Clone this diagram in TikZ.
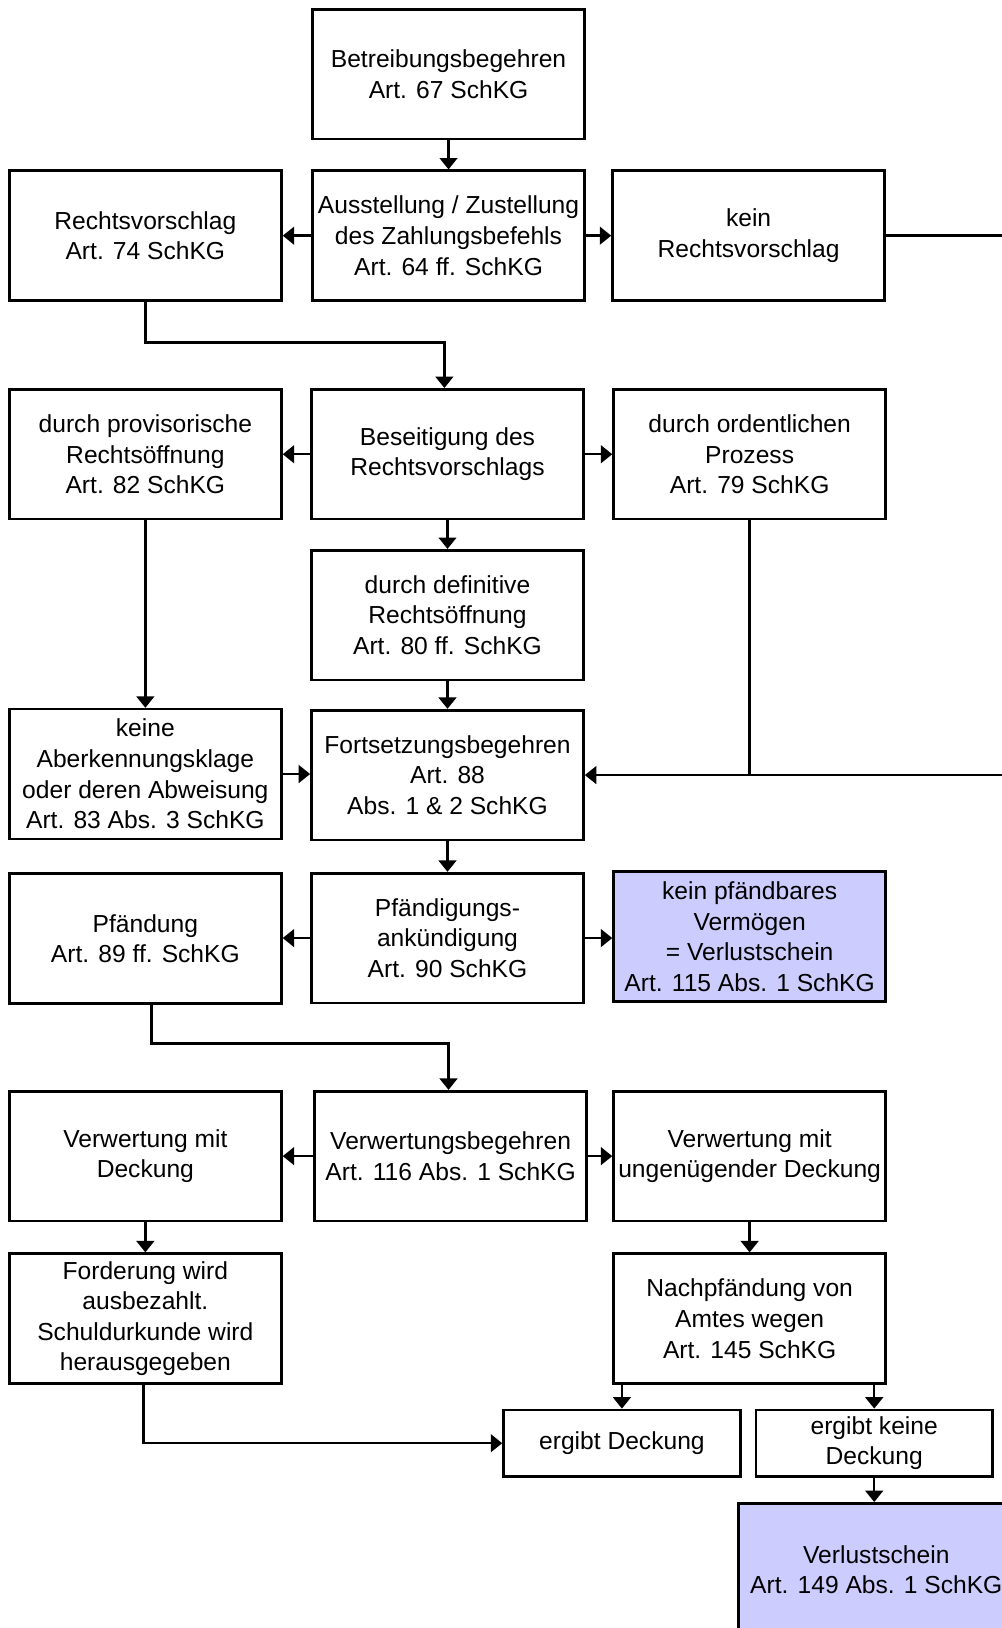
\documentclass[tikz,border=0pt]{standalone}
\usepackage{fontspec}
\setmainfont{Liberation Sans}
\usetikzlibrary{arrows.meta}
\definecolor{lav}{RGB}{204,204,255}
\begin{document}
\begin{tikzpicture}[x=1pt,y=-1pt,
  box/.style={draw=black,line width=2.6pt,fill=white,minimum width=262pt,minimum height=125pt,
    inner sep=0pt,align=center,font=\fontsize{23.7pt}{29.5pt}\selectfont},
  sbox/.style={box,minimum width=228pt,minimum height=64pt},
  hl/.style={fill=lav},
  con/.style={line width=2.4pt},
  arr/.style={con,-{Triangle[length=11pt,width=17pt]}}]
\useasboundingbox (0,0) rectangle (965,1568);
\clip (0,0) rectangle (965,1568);
\fill[white] (0,0) rectangle (965,1568);
% nodes
\node[box] (bb) at (432,71.5) {Betreibungsbegehren\\Art. 67 SchKG};
\node[box] (aus) at (432,227) {Ausstellung / Zustellung\\des Zahlungsbefehls\\Art. 64 ff. SchKG};
\node[box] (rv) at (140,227) {Rechtsvorschlag\\Art. 74 SchKG};
\node[box] (kein) at (721,227) {kein\\Rechtsvorschlag};
\node[box] (prov) at (140,437.5) {durch provisorische\\Rechtsöffnung\\Art. 82 SchKG};
\node[box] (bes) at (431,437.5) {Beseitigung des\\Rechtsvorschlags};
\node[box] (ord) at (722,437.5) {durch ordentlichen\\Prozess\\Art. 79 SchKG};
\node[box] (def) at (431,592.5) {durch definitive\\Rechtsöffnung\\Art. 80 ff. SchKG};
\node[box] (aber) at (140,745.5) {keine\\Aberkennungsklage\\oder deren Abweisung\\Art. 83 Abs. 3 SchKG};
\node[box] (fort) at (431,746.5) {Fortsetzungsbegehren\\Art. 88\\Abs. 1 \& 2 SchKG};
\node[box] (pf) at (140,904) {Pfändung\\Art. 89 ff. SchKG};
\node[box] (pfa) at (431,903.5) {Pfändigungs-\\ankündigung\\Art. 90 SchKG};
\node[box,hl] (kpv) at (722,902) {kein pfändbares\\Vermögen\\= Verlustschein\\Art. 115 Abs. 1 SchKG};
\node[box] (vmd) at (140,1113.5) {Verwertung mit\\Deckung};
\node[box] (vb) at (434,1113.5) {Verwertungsbegehren\\Art. 116 Abs. 1 SchKG};
\node[box] (vud) at (722,1113.5) {Verwertung mit\\ungenügender Deckung};
\node[box] (ford) at (140,1270) {Forderung wird\\ausbezahlt.\\Schuldurkunde wird\\herausgegeben};
\node[box] (nach) at (722,1270) {Nachpfändung von\\Amtes wegen\\Art. 145 SchKG};
\node[sbox] (ed) at (599,1390) {ergibt Deckung};
\node[sbox] (ek) at (842,1390) {ergibt keine\\Deckung};
\node[box,hl,minimum width=266pt,minimum height=128pt] (vs) at (844,1512) {Verlustschein\\Art. 149 Abs. 1 SchKG};
% coordinates
\coordinate (eR1) at (990,227);
\coordinate (eR2) at (990,746.5);
\coordinate (j1) at (428,330);
\coordinate (j2) at (432,1005);
% connectors
\draw[arr] (bb) -- (aus);
\draw[arr] (aus) -- (rv);
\draw[arr] (aus) -- (kein);
\draw[con] (kein.east) -- (eR1);
\draw[arr] (rv.south) |- (j1) -- (j1 |- bes.north);
\draw[arr] (bes) -- (prov);
\draw[arr] (bes) -- (ord);
\draw[arr] (bes) -- (def);
\draw[arr] (prov) -- (aber);
\draw[arr] (def) -- (fort);
\draw[arr] (aber.east) -- (aber.east -| fort.west);
\draw[con] (ord.south) -- (ord.south |- fort.east);
\draw[arr] (eR2) -- (fort.east);
\draw[arr] (fort) -- (pfa);
\draw[arr] (pfa.west) -- (pfa.west -| pf.east);
\draw[arr] (pfa.east) -- (pfa.east -| kpv.west);
\draw[arr] ([xshift=6pt]pf.south) |- (j2) -- (j2 |- vb.north);
\draw[arr] (vb) -- (vmd);
\draw[arr] (vb) -- (vud);
\draw[arr] (vmd) -- (ford);
\draw[arr] (vud) -- (nach);
\draw[arr] (ed.north |- nach.south) -- (ed.north);
\draw[arr] (ek.north |- nach.south) -- (ek.north);
\draw[arr] ([xshift=-2pt]ford.south) |- (ed.west);
\draw[arr] (ek.south) -- (ek.south |- vs.north);
\end{tikzpicture}
\end{document}
